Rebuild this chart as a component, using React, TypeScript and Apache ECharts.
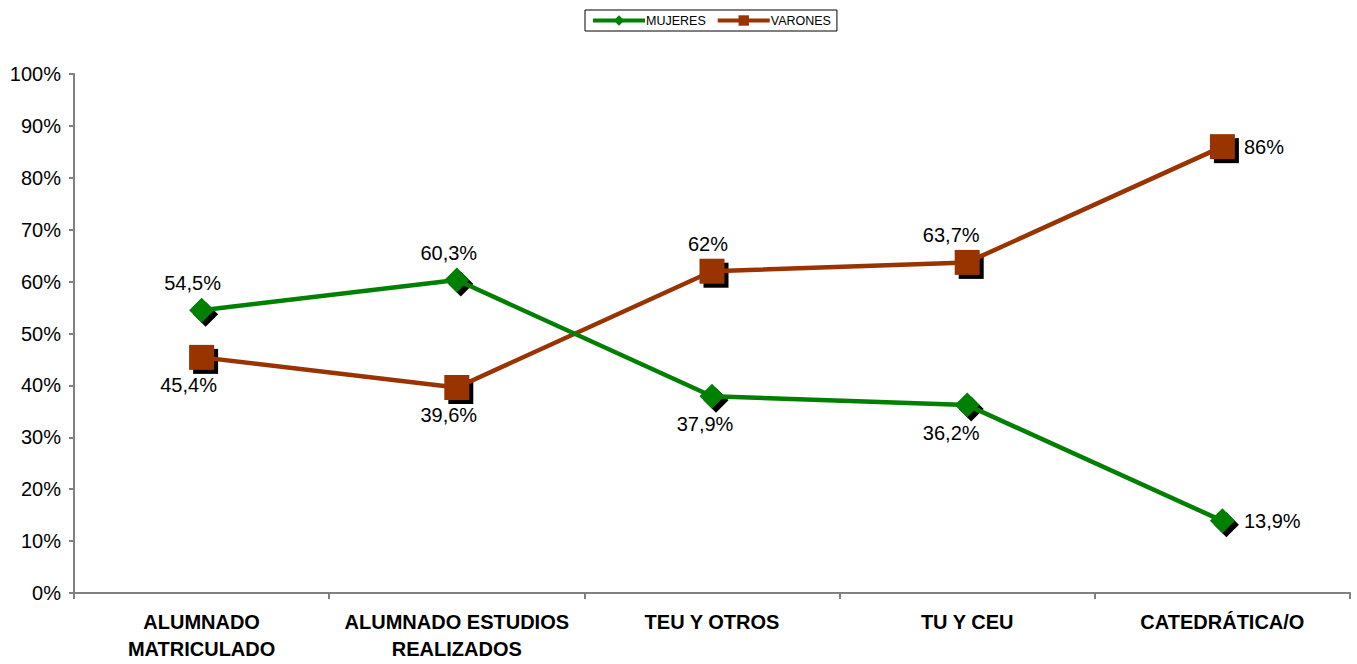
import React, { useEffect, useRef } from "react";
import * as echarts from "echarts";

const categories = [
  "ALUMNADO\nMATRICULADO",
  "ALUMNADO ESTUDIOS\nREALIZADOS",
  "TEU Y OTROS",
  "TU Y CEU",
  "CATEDRÁTICA/O",
];
const mujeres = [54.5, 60.3, 37.9, 36.2, 13.9];
const varones = [45.4, 39.6, 62, 63.7, 86];
const mujeresLabelPos = ["top", "top", "bottom", "bottom", "right"];
const varonesLabelPos = ["bottom", "bottom", "top", "top", "right"];
const mujeresLabelShift = [-9, -8, -7, -16, 0];
const varonesLabelShift = [-13, -8, -4, -16, 0];

const fmt = (v: number) => String(v).replace(".", ",") + "%";

export default function App() {
  const ref = useRef<HTMLDivElement>(null);
  useEffect(() => {
    const chart = echarts.init(ref.current!, null, { renderer: "svg" });
    const FONT = "Liberation Sans, Arial, sans-serif";
    const mkData = (vals: number[], pos: string[], shift: number[]) =>
      vals.map((v, i) => ({
        value: v,
        label: {
          show: true,
          position: pos[i],
          distance: pos[i] === "right" ? 9 : 5,
          offset: [pos[i] === "right" ? 0 : shift[i], 0],
          formatter: () => fmt(v),
          fontSize: 20,
          color: "#000",
          fontFamily: FONT,
        },
      }));
    chart.setOption({
      animation: false,
      textStyle: { fontFamily: FONT },
      legend: {
        top: 10,
        left: 585,
        data: ["MUJERES", "VARONES"],
        borderColor: "#000",
        borderWidth: 1,
        borderRadius: 0,
        padding: [4, 6],
        itemGap: 10,
        itemWidth: 52,
        itemHeight: 13,
        lineStyle: { width: 4 },
        textStyle: { fontSize: 12.5, color: "#000", fontFamily: FONT, padding: [0, 0, 0, -4] },
      },
      grid: { left: 74, right: 7, top: 74, bottom: 71 },
      xAxis: {
        type: "category",
        data: categories,
        boundaryGap: true,
        axisLine: { lineStyle: { color: "#808080", width: 2 } },
        axisTick: { show: true, inside: false, length: 6, lineStyle: { color: "#808080", width: 2 } },
        axisLabel: {
          interval: 0,
          fontSize: 20,
          fontWeight: "bold",
          color: "#000",
          lineHeight: 27,
          margin: 15,
          fontFamily: FONT,
        },
        splitLine: { show: false },
      },
      yAxis: {
        type: "value",
        min: 0,
        max: 100,
        interval: 10,
        axisLine: { show: true, lineStyle: { color: "#808080", width: 2 } },
        axisTick: { show: true, length: 5, lineStyle: { color: "#808080", width: 2 } },
        axisLabel: {
          formatter: (v: number) => v + "%",
          fontSize: 20,
          color: "#000",
          margin: 13,
          fontFamily: FONT,
        },
        splitLine: { show: false },
      },
      series: [
        {
          name: "shadowM",
          type: "scatter",
          data: mujeres,
          symbol: "diamond",
          symbolSize: [25, 25],
          symbolOffset: [4, 4],
          itemStyle: { color: "#000", opacity: 1 },
          z: 1,
          silent: true,
        },
        {
          name: "shadowV",
          type: "scatter",
          data: varones,
          symbol: "rect",
          symbolSize: 25,
          symbolOffset: [4, 4],
          itemStyle: { color: "#000", opacity: 1 },
          z: 1,
          silent: true,
        },
        {
          name: "MUJERES",
          type: "line",
          data: mkData(mujeres, mujeresLabelPos, mujeresLabelShift),
          symbol: "diamond",
          symbolSize: [25, 25],
          showAllSymbol: true,
          lineStyle: { color: "#008000", width: 4.5 },
          itemStyle: { color: "#008000", opacity: 1 },
          z: 3,
        },
        {
          name: "VARONES",
          type: "line",
          data: mkData(varones, varonesLabelPos, varonesLabelShift),
          symbol: "rect",
          symbolSize: 25,
          showAllSymbol: true,
          lineStyle: { color: "#993300", width: 4.5 },
          itemStyle: { color: "#993300", opacity: 1 },
          z: 2,
        },
      ],
    });
    return () => chart.dispose();
  }, []);
  return (
    <div
      ref={ref}
      style={{ position: "absolute", left: 0, top: 0, width: 1357, height: 664, background: "#fff" }}
    />
  );
}
